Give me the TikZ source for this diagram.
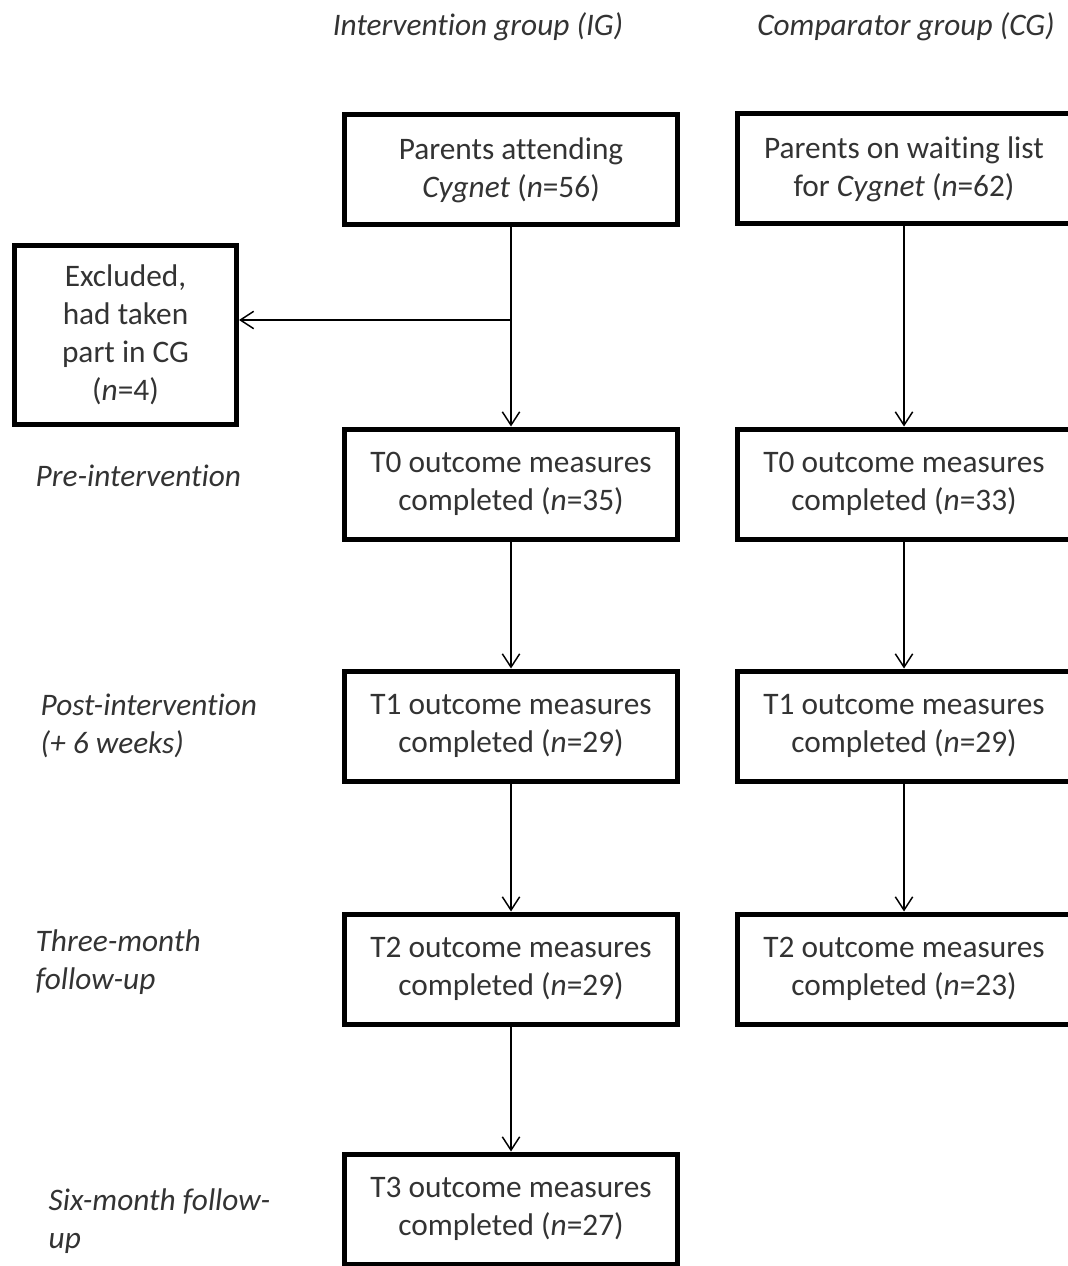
\documentclass[tikz,border=0pt]{standalone}
\usepackage{fontspec}
\setmainfont[Ligatures={NoCommon,NoRequired}]{Carlito}
\usetikzlibrary{arrows.meta}

\begin{document}
\begin{tikzpicture}[x=0.75pt,y=-0.75pt,line width=1.1pt,-{Straight Barb[length=10pt,width=13pt]},font=\fontsize{23.5}{28.5}\selectfont]
		\tikzstyle{box}=[rectangle,draw=black,line width=3.75pt,minimum width=249.75pt,minimum height=82.5pt,align=center,text=black!80,inner sep=2pt]
		\tikzstyle{head}=[text=black!80,font=\fontsize{23.5}{28.5}\selectfont\itshape]
		\tikzstyle{stage}=[head,align=left,anchor=west,inner sep=0pt]
		\useasboundingbox (0,0) rectangle (1067,1266);
		\node[head] (hig) at (478,27) {Intervention group (IG)};
		\node[head] (hcg) at (906,27) {Comparator group (CG)};
		\node[box] (a) at (511,170) {Parents attending\\\textit{Cygnet} (\textit{n}=56)};
		\node[box] (b) at (904,169) {Parents on waiting list\\for \textit{Cygnet} (\textit{n}=62)};
		\node[box,minimum width=166.5pt,minimum height=133.5pt] (ex) at (125.5,335) {Excluded,\\had taken\\part in CG\\(\textit{n}=4)};
		\foreach \t/\y/\ni/\nc in {0/484/35/33,1/726/29/29,2/969/29/23}{
			\node[box] (ig\t) at (511,\y) {T\t{} outcome measures\\completed (\textit{n}=\ni)};
			\node[box] (cg\t) at (904,\y) {T\t{} outcome measures\\completed (\textit{n}=\nc)};
		};
		\node[box] (ig3) at (511,1209) {T3 outcome measures\\completed (\textit{n}=27)};
		\node[stage] (pre) at (35,476) {Pre-intervention};
		\node[stage] (post) at (40,725.5) {Post-intervention\\(+ 6 weeks)};
		\node[stage] (three) at (35,962.5) {Three-month\\follow-up};
		\node[stage] (six) at (48,1221) {Six-month follow-\\up};
		\draw (a) -- (ig0);
		\draw (b) -- (cg0);
		\foreach \i/\j in {0/1,1/2}{
			\draw (ig\i) -- (ig\j);
			\draw (cg\i) -- (cg\j);
		};
		\draw (ig2) -- (ig3);
		\coordinate (split) at (511,320);
		\draw (split) -- (split -| ex.east);
	\end{tikzpicture}
\end{document}
